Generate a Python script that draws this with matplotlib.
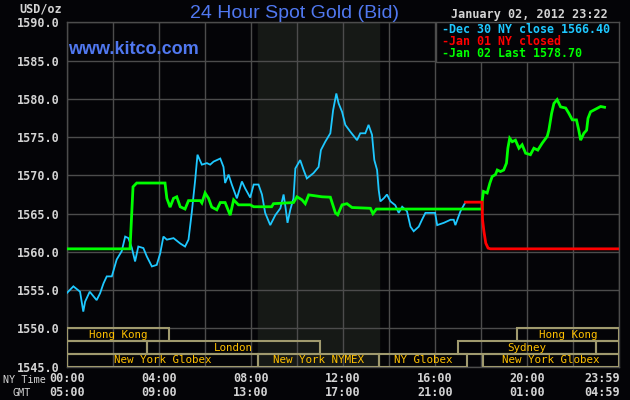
import matplotlib
matplotlib.use("Agg")
import matplotlib.pyplot as plt
from matplotlib.patches import Rectangle
from matplotlib.transforms import blended_transform_factory

# price series, (NY hour, USD/oz)
dec30_close = [
    (0.0, 1554.6), (0.29, 1555.5), (0.58, 1554.8), (0.72, 1552.2), (0.8, 1553.5),
    (1.0, 1554.8), (1.3, 1553.7), (1.45, 1554.6), (1.6, 1555.9), (1.74, 1556.8),
    (1.96, 1556.8), (2.17, 1559.0), (2.39, 1560.1), (2.54, 1562.0), (2.68, 1561.8),
    (2.83, 1560.5), (2.97, 1558.75), (3.11, 1560.7), (3.33, 1560.5), (3.48, 1559.4),
    (3.7, 1558.1), (3.91, 1558.3), (4.06, 1559.8), (4.2, 1562.0), (4.35, 1561.6),
    (4.64, 1561.8), (4.93, 1561.1), (5.14, 1560.7), (5.29, 1561.6), (5.43, 1565.1),
    (5.58, 1569.4), (5.68, 1572.7), (5.87, 1571.4), (6.09, 1571.6), (6.23, 1571.4),
    (6.38, 1571.8), (6.67, 1572.2), (6.81, 1571.1), (6.88, 1569.0), (7.03, 1570.1),
    (7.17, 1568.8), (7.39, 1567.0), (7.61, 1569.2), (7.75, 1568.3), (7.97, 1567.1),
    (8.12, 1568.8), (8.33, 1568.8), (8.48, 1567.5), (8.62, 1565.1), (8.84, 1563.5),
    (9.06, 1564.8), (9.28, 1565.7), (9.42, 1567.5), (9.5, 1565.9), (9.59, 1563.8),
    (9.71, 1565.5), (9.85, 1567.0), (9.93, 1570.9), (10.14, 1572.0), (10.29, 1570.7),
    (10.43, 1569.6), (10.72, 1570.3), (10.94, 1571.1), (11.04, 1573.3), (11.23, 1574.4),
    (11.45, 1575.5), (11.57, 1578.5), (11.71, 1580.7), (11.81, 1579.4), (11.96, 1578.3),
    (12.1, 1576.6), (12.32, 1575.7), (12.61, 1574.6), (12.75, 1575.5), (12.97, 1575.5),
    (13.11, 1576.6), (13.26, 1575.3), (13.36, 1572.0), (13.48, 1570.7), (13.55, 1568.1),
    (13.62, 1566.6), (13.77, 1567.0), (13.91, 1567.5), (14.06, 1566.6), (14.27, 1566.1),
    (14.42, 1565.1), (14.57, 1565.9), (14.78, 1565.3), (14.93, 1563.3), (15.07, 1562.7),
    (15.29, 1563.3), (15.43, 1564.2), (15.58, 1565.1), (15.87, 1565.1), (16.0, 1565.1),
    (16.09, 1563.5), (16.38, 1563.8), (16.67, 1564.2), (16.81, 1564.2), (16.88, 1563.5),
    (17.1, 1565.3), (17.3, 1566.4),
]

jan02_last = [
    (0.0, 1560.4), (2.75, 1560.4), (2.8, 1563.5), (2.88, 1568.5), (3.04, 1569.0),
    (4.27, 1569.0), (4.35, 1567.0), (4.49, 1565.85), (4.64, 1567.0), (4.78, 1567.2),
    (4.93, 1565.9), (5.14, 1565.6), (5.29, 1566.7), (5.8, 1566.7), (5.87, 1566.4),
    (6.01, 1567.7), (6.16, 1567.0), (6.3, 1565.85), (6.52, 1565.5), (6.67, 1566.45),
    (6.88, 1566.45), (7.1, 1564.8), (7.25, 1566.8), (7.46, 1566.15), (7.97, 1566.15),
    (8.12, 1565.9), (8.9, 1565.9), (8.98, 1566.3), (9.85, 1566.45), (10.0, 1567.2),
    (10.22, 1566.8), (10.36, 1566.3), (10.51, 1567.45), (11.09, 1567.2), (11.45, 1567.15),
    (11.67, 1565.1), (11.77, 1564.85), (11.96, 1566.15), (12.17, 1566.3), (12.39, 1565.8),
    (13.19, 1565.7), (13.3, 1565.0), (13.45, 1565.6), (18.04, 1565.6), (18.05, 1566.8),
    (18.1, 1567.9), (18.26, 1567.7), (18.38, 1569.0), (18.48, 1569.85), (18.62, 1570.1),
    (18.7, 1570.7), (18.84, 1570.5), (18.98, 1570.7), (19.1, 1571.6), (19.16, 1573.55),
    (19.24, 1574.85), (19.35, 1574.4), (19.49, 1574.6), (19.64, 1573.55), (19.78, 1574.0),
    (19.93, 1572.9), (20.14, 1572.7), (20.29, 1573.55), (20.46, 1573.3), (20.65, 1574.2),
    (20.87, 1575.1), (20.94, 1575.9), (21.06, 1578.1), (21.16, 1579.4), (21.3, 1579.9),
    (21.45, 1578.95), (21.67, 1578.8), (21.81, 1578.1), (21.96, 1577.25), (22.14, 1577.25),
    (22.24, 1575.9), (22.32, 1574.6), (22.46, 1575.5), (22.58, 1575.9), (22.64, 1577.45),
    (22.75, 1578.3), (22.97, 1578.65), (23.19, 1579.0), (23.36, 1578.9),
]

jan01_closed = [
    (17.32, 1566.5), (18.04, 1566.5), (18.06, 1564.2), (18.12, 1562.7),
    (18.2, 1561.15), (18.3, 1560.5), (18.4, 1560.4), (24.0, 1560.4),
]

# trading sessions: (row, start hour, end hour, label)
sessions = [
    (0, 0.0, 4.46, "Hong Kong"), (0, 19.57, 24.0, "Hong Kong"),
    (1, 0.0, 3.5, ""), (1, 3.5, 11.0, "London"),
    (1, 17.0, 23.0, "Sydney"), (1, 23.0, 24.0, ""),
    (2, 0.0, 8.33, "New York Globex"), (2, 8.33, 13.55, "New York NYMEX"),
    (2, 13.55, 17.39, "NY Globex"), (2, 18.07, 24.0, "New York Globex"),
]
nymex_open, nymex_close = 8.33, 13.55

tick_hours = [0, 4, 8, 12, 16, 20, 24]
ny_labels = ["00:00", "04:00", "08:00", "12:00", "16:00", "20:00", "23:59"]
gmt_labels = ["05:00", "09:00", "13:00", "17:00", "21:00", "01:00", "04:59"]

legend_lines = [
    ("-Dec 30 NY close 1566.40", "#1ec8ff"),
    ("-Jan 01 NY closed", "#ff0000"),
    ("-Jan 02 Last 1578.70", "#00ff00"),
]

BG = "#040407"
GRID = "#4c4c4c"
TXT = "#d4d4d4"
BOX = "#a09a6e"
BLUE = "#5078f0"
MONO = "DejaVu Sans Mono"

W, H = 630, 400


def px(x, y):
    # pixel position -> figure fraction
    return x / W, 1 - y / H


fig = plt.figure(figsize=(6.3, 4), dpi=100, facecolor=BG)
ax = fig.add_axes([66.7 / W, 1 - 366.7 / H, (619.3 - 66.7) / W, (366.7 - 22.3) / H])
ax.set_facecolor(BG)
ax.set_xlim(0, 24)
ax.set_ylim(1545, 1590)

ax.axvspan(nymex_open, nymex_close, color="#161916", zorder=0)

ax.set_xticks(range(0, 25, 2))
ax.set_xticklabels([])
ax.set_yticks(range(1545, 1591, 5))
ax.set_yticklabels(["%.1f" % v for v in range(1545, 1591, 5)],
                   fontfamily=MONO, fontweight="bold", fontsize=8.5, color=TXT)
ax.tick_params(length=0, pad=5)
ax.grid(True, color=GRID, linewidth=1.0, zorder=1)
ax.set_axisbelow(False)
for s in ax.spines.values():
    s.set_color(GRID)
    s.set_linewidth(1.0)

# session boxes at the bottom
row_h = 5 / 3
for row, x0, x1, label in sessions:
    y0 = 1550 - (row + 1) * row_h
    ax.add_patch(Rectangle((x0, y0), x1 - x0, row_h, fill=False,
                           edgecolor=BOX, linewidth=1.5, zorder=3))
    if label:
        ax.text((x0 + x1) / 2, y0 + row_h / 2, label, ha="center", va="center",
                fontfamily=MONO, fontsize=7.8, color="#ffc000", zorder=4)

# price lines
for pts, color, lw in [(dec30_close, "#1ec8ff", 1.3),
                       (jan02_last, "#00ff00", 2.0),
                       (jan01_closed, "#ff0000", 2.0)]:
    hrs = [p[0] for p in pts]
    vals = [p[1] for p in pts]
    ax.plot(hrs, vals, color=color, linewidth=lw, zorder=5,
            solid_joinstyle="miter")

# legend box, top right
ax.add_patch(Rectangle((16.04, 1584.86), 24 - 16.04, 1590 - 1584.86,
                       facecolor=BG, edgecolor=GRID, linewidth=1.0, zorder=6))
for i, (txt, color) in enumerate(legend_lines):
    fig.text(*px(442.5, 29.5 + 12 * i), txt, ha="left", va="center",
             fontfamily=MONO, fontweight="bold", fontsize=8.4, color=color, zorder=7)

# x labels, two rows
tr = blended_transform_factory(ax.transData, fig.transFigure)
for h, ny, gmt in zip(tick_hours, ny_labels, gmt_labels):
    xh = h if h < 24 else 23.26
    ax.text(xh, 1 - 378.5 / H, ny, transform=tr, ha="center", va="center",
            fontfamily=MONO, fontweight="bold", fontsize=8.5, color=TXT)
    ax.text(xh, 1 - 392.5 / H, gmt, transform=tr, ha="center", va="center",
            fontfamily=MONO, fontweight="bold", fontsize=8.5, color=TXT)
fig.text(*px(3, 380), "NY Time", ha="left", va="center",
         fontfamily=MONO, fontsize=7.3, color=TXT)
fig.text(*px(12, 392.5), "GMT", ha="left", va="center",
         fontfamily=MONO, fontsize=7.3, color=TXT)

# header texts
fig.text(*px(62.5, 8.5), "USD/oz", ha="right", va="center",
         fontfamily=MONO, fontweight="bold", fontsize=8.5, color=TXT)
fig.text(*px(190, 17.5), "24 Hour Spot Gold (Bid)", ha="left", va="baseline",
         fontfamily="Liberation Sans", fontsize=14, color=BLUE)
fig.text(*px(608, 14.5), "January 02, 2012 23:22", ha="right", va="center",
         fontfamily=MONO, fontweight="bold", fontsize=8.5, color=TXT)
fig.text(*px(68, 49), "www.kitco.com", ha="left", va="center",
         fontfamily="Liberation Sans", fontweight="bold", fontsize=13,
         color=BLUE, zorder=7)

fig.savefig("out.png", dpi=100, facecolor=BG)
